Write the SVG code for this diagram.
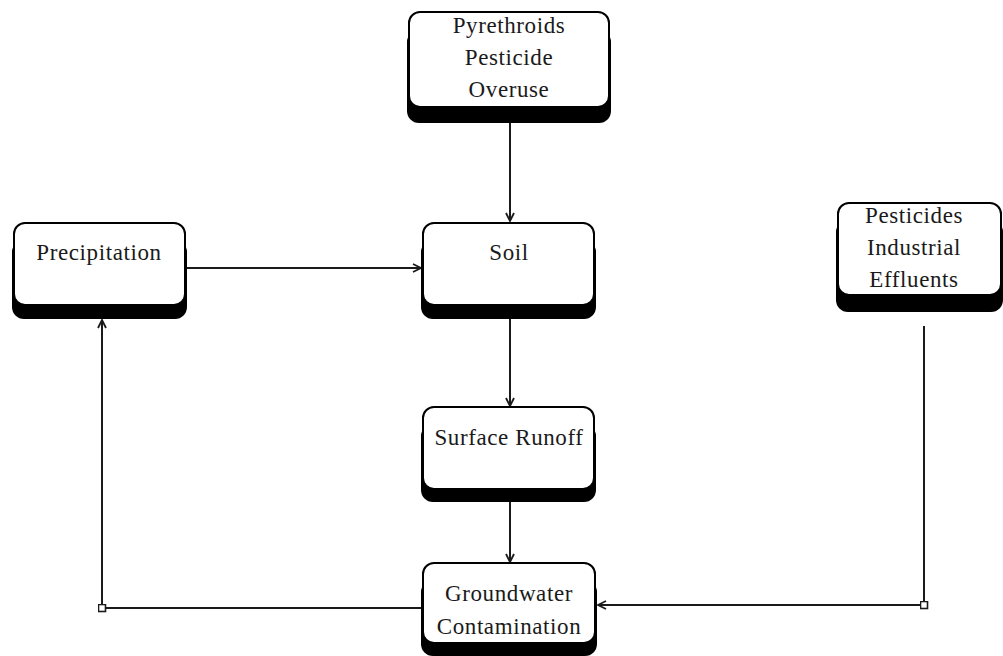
<svg xmlns="http://www.w3.org/2000/svg" width="1003" height="656" viewBox="0 0 1003 656">
<style>
.sh{fill:#000}
.bx{fill:#fff;stroke:#000;stroke-width:2}
.t{font-family:"Liberation Serif","Times New Roman",serif;font-size:23px;letter-spacing:0.6px;fill:#1a1a1a;text-anchor:middle}
.ln{fill:none;stroke:#1a1a1a;stroke-width:2}
</style>
<defs>
<marker id="ar" viewBox="0 0 10 10" refX="9" refY="5" markerWidth="10" markerHeight="10" markerUnits="userSpaceOnUse" orient="auto">
<path d="M1,1 L9,5 L1,9" fill="none" stroke="#1a1a1a" stroke-width="1.8"/>
</marker>
<marker id="sq" viewBox="0 0 9 9" refX="4.5" refY="4.5" markerWidth="9" markerHeight="9" markerUnits="userSpaceOnUse">
<rect x="1" y="1" width="7" height="7" fill="#fff" stroke="#1a1a1a" stroke-width="1.6"/>
</marker>
</defs>
<g id="connectors">
<line class="ln" x1="510" y1="123" x2="510" y2="221" marker-end="url(#ar)"/>
<line class="ln" x1="186" y1="268" x2="421" y2="268" marker-end="url(#ar)"/>
<line class="ln" x1="510" y1="319" x2="510" y2="406" marker-end="url(#ar)"/>
<line class="ln" x1="510" y1="502" x2="510" y2="562" marker-end="url(#ar)"/>
<polyline class="ln" points="924,326 924,605 598,605" marker-mid="url(#sq)" marker-end="url(#ar)"/>
<polyline class="ln" points="421,608 102,608 102,320" marker-mid="url(#sq)" marker-end="url(#ar)"/>
</g>
<g id="pyrethroids">
<rect class="sh" x="407" y="30" width="204" height="93" rx="12"/>
<rect class="bx" x="409" y="12" width="200" height="95" rx="11"/>
<text class="t" x="509" y="33">Pyrethroids</text>
<text class="t" x="509" y="65">Pesticide</text>
<text class="t" x="509" y="97">Overuse</text>
</g>
<g id="precipitation">
<rect class="sh" x="12" y="240" width="175" height="79" rx="12"/>
<rect class="bx" x="14" y="223" width="171" height="82" rx="11"/>
<text class="t" x="99" y="260">Precipitation</text>
</g>
<g id="soil">
<rect class="sh" x="421" y="240" width="175" height="79" rx="12"/>
<rect class="bx" x="423" y="223" width="171" height="82" rx="11"/>
<text class="t" x="509" y="260">Soil</text>
</g>
<g id="pesticides">
<rect class="sh" x="836" y="220" width="167" height="92" rx="12"/>
<rect class="bx" x="838" y="203" width="163" height="92" rx="11"/>
<text class="t" x="914" y="223">Pesticides</text>
<text class="t" x="914" y="255">Industrial</text>
<text class="t" x="914" y="287">Effluents</text>
</g>
<g id="surface-runoff">
<rect class="sh" x="421" y="424" width="175" height="78" rx="12"/>
<rect class="bx" x="423" y="407" width="171" height="82" rx="11"/>
<text class="t" x="509" y="445">Surface Runoff</text>
</g>
<g id="groundwater">
<rect class="sh" x="421" y="580" width="176" height="76" rx="12"/>
<rect class="bx" x="423" y="563" width="172" height="80" rx="11"/>
<text class="t" x="509" y="601">Groundwater</text>
<text class="t" x="509" y="634">Contamination</text>
</g>
</svg>
